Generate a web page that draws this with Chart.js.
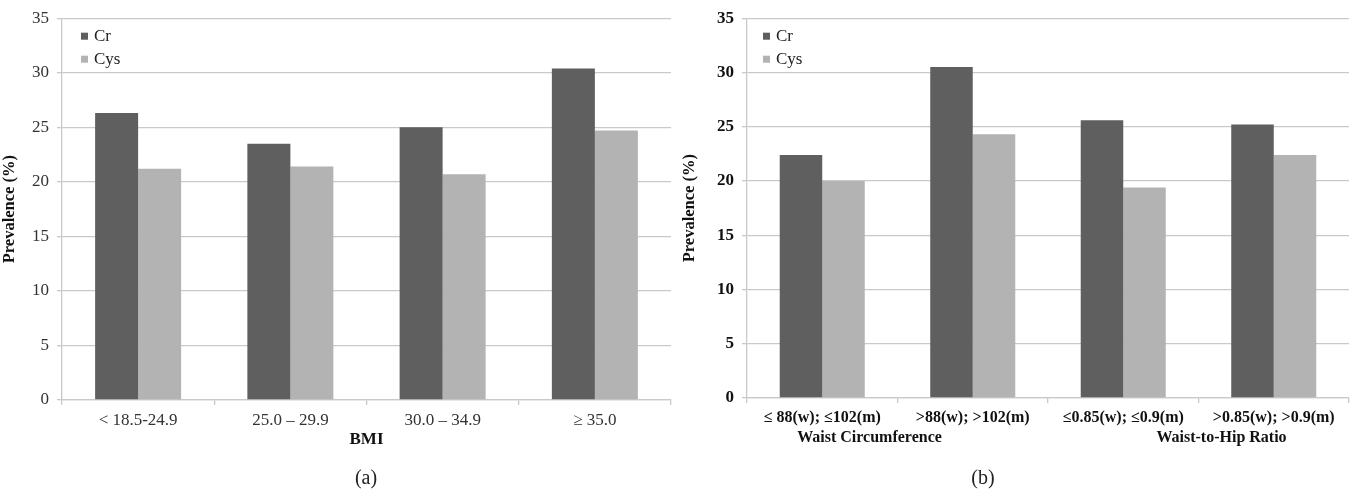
<!DOCTYPE html>
<html>
<head>
<meta charset="utf-8">
<script src="https://cdn.jsdelivr.net/npm/chart.js@4"></script>
<style>
  body { margin: 0; background: #fff; width: 1357px; height: 494px; position: relative; overflow: hidden; }
  .box { position: absolute; top: 0; height: 494px; }
  .cap { position: absolute; top: 466px; width: 60px; text-align: center; font: 20px "Liberation Serif", serif; color: #222; }
</style>
</head>
<body>
<div class="box" style="left:0;width:680px"><canvas id="chart-bmi"></canvas></div>
<div class="box" style="left:680px;width:677px"><canvas id="chart-waist"></canvas></div>
<div class="cap" style="left:336px">(a)</div>
<div class="cap" style="left:953px">(b)</div>
<script>
const series_names = ["Cr", "Cys"];

const bmi_labels = ["< 18.5-24.9", "25.0 \u2013 29.9", "30.0 \u2013 34.9", "\u2265 35.0"];
const bmi_cr = [26.3, 23.5, 25.0, 30.4];
const bmi_cys = [21.2, 21.4, 20.7, 24.7];

const waist_labels = ["\u2264 88(w); \u2264102(m)", ">88(w); >102(m)", "\u22640.85(w); \u22640.9(m)", ">0.85(w); >0.9(m)"];
const waist_cr = [22.4, 30.5, 25.6, 25.2];
const waist_cys = [20.0, 24.3, 19.4, 22.4];

// group titles under the x axis: [first category, last category, text]
const waist_groups = [[0, 1, "Waist Circumference"], [2, 3, "Waist-to-Hip Ratio"]];
const bmi_groups = [[0, 3, "BMI"]];

const y_ticks = { min: 0, max: 35, step: 5 };

const dark = "#5f5f5f";
const light = "#b3b3b3";
const grid = "#c9c9c9";
const serif = "'Liberation Serif', 'Times New Roman', serif";

Chart.defaults.font.family = serif;
Chart.defaults.animation = false;

// legend drawn inside the plot, top left
const inner_legend = {
  id: "inner_legend",
  afterDraw(chart, args, opts) {
    const ctx = chart.ctx;
    const a = chart.chartArea;
    ctx.save();
    ctx.font = "17px " + serif;
    ctx.textBaseline = "middle";
    chart.data.datasets.forEach((ds, i) => {
      const y = a.top + 18 + i * 23;
      ctx.fillStyle = ds.backgroundColor;
      ctx.fillRect(a.left + opts.dx, y - 3.5, 7, 7);
      ctx.fillStyle = opts.color;
      ctx.fillText(ds.label, a.left + opts.dx + 13, y);
    });
    ctx.restore();
  }
};

// bold titles below the category labels
const group_titles = {
  id: "group_titles",
  afterDraw(chart, args, opts) {
    const ctx = chart.ctx;
    const x = chart.scales.x;
    const half = (x.getPixelForValue(1) - x.getPixelForValue(0)) / 2;
    ctx.save();
    ctx.font = opts.font + " " + serif;
    ctx.fillStyle = "#111";
    ctx.textAlign = "center";
    ctx.textBaseline = "middle";
    opts.groups.forEach((g, i) => {
      const cx = (x.getPixelForValue(g[0]) - half + x.getPixelForValue(g[1]) + half) / 2;
      ctx.fillText(g[2], cx + (opts.shift[i] || 0), chart.chartArea.bottom + opts.dy);
    });
    ctx.restore();
  }
};

function make_config(labels, cr, cys, groups, look) {
  const tick_color = look.bold ? "#111" : "#333";
  const weight = look.bold ? "bold" : "normal";
  return {
    type: "bar",
    data: {
      labels: labels,
      datasets: [
        { label: series_names[0], data: cr, backgroundColor: dark },
        { label: series_names[1], data: cys, backgroundColor: light }
      ]
    },
    options: {
      responsive: false,
      maintainAspectRatio: false,
      layout: { padding: { top: 15, right: look.right, left: 0, bottom: 0 } },
      datasets: { bar: { categoryPercentage: 0.565, barPercentage: 1.0 } },
      plugins: {
        legend: { display: false },
        tooltip: { enabled: false },
        inner_legend: { dx: look.legend_dx, color: "#222" },
        group_titles: { groups: groups, dy: look.title_dy, shift: look.shift, font: "bold " + look.title_size + "px" }
      },
      scales: {
        x: {
          grid: { offset: true, drawOnChartArea: false, drawTicks: true, tickLength: 5, color: grid, lineWidth: 1.3 },
          border: { color: grid, width: 1.3 },
          ticks: { color: tick_color, font: { size: look.x_size, weight: weight }, padding: 5, maxRotation: 0, autoSkip: false },
          afterFit: s => { s.height = look.axis_h; }
        },
        y: {
          min: y_ticks.min, max: y_ticks.max,
          grid: { color: grid, lineWidth: 1.3, tickLength: 5 },
          border: { color: grid, width: 1.3 },
          ticks: { stepSize: y_ticks.step, color: tick_color, font: { size: 17, weight: weight }, padding: 8 },
          title: { display: true, text: "Prevalence (%)", color: "#111", font: { size: 16.5, weight: "bold" }, padding: { top: 0, bottom: 0 } },
          afterFit: s => { s.width = look.axis_w; }
        }
      }
    },
    plugins: [inner_legend, group_titles]
  };
}

function setup(id, w) {
  const c = document.getElementById(id);
  c.width = w; c.height = 494;
  c.style.width = w + "px"; c.style.height = "494px";
  return c;
}

new Chart(setup("chart-bmi", 680), make_config(bmi_labels, bmi_cr, bmi_cys, bmi_groups,
  { axis_w: 62, axis_h: 94, right: 9, bold: false, x_size: 17, title_size: 17, title_dy: 40, shift: [0], legend_dx: 19 }));
new Chart(setup("chart-waist", 677), make_config(waist_labels, waist_cr, waist_cys, waist_groups,
  { axis_w: 67, axis_h: 96, right: 8, bold: true, x_size: 16, title_size: 16, title_dy: 40, shift: [-28, 23], legend_dx: 16 }));
</script>
</body>
</html>
